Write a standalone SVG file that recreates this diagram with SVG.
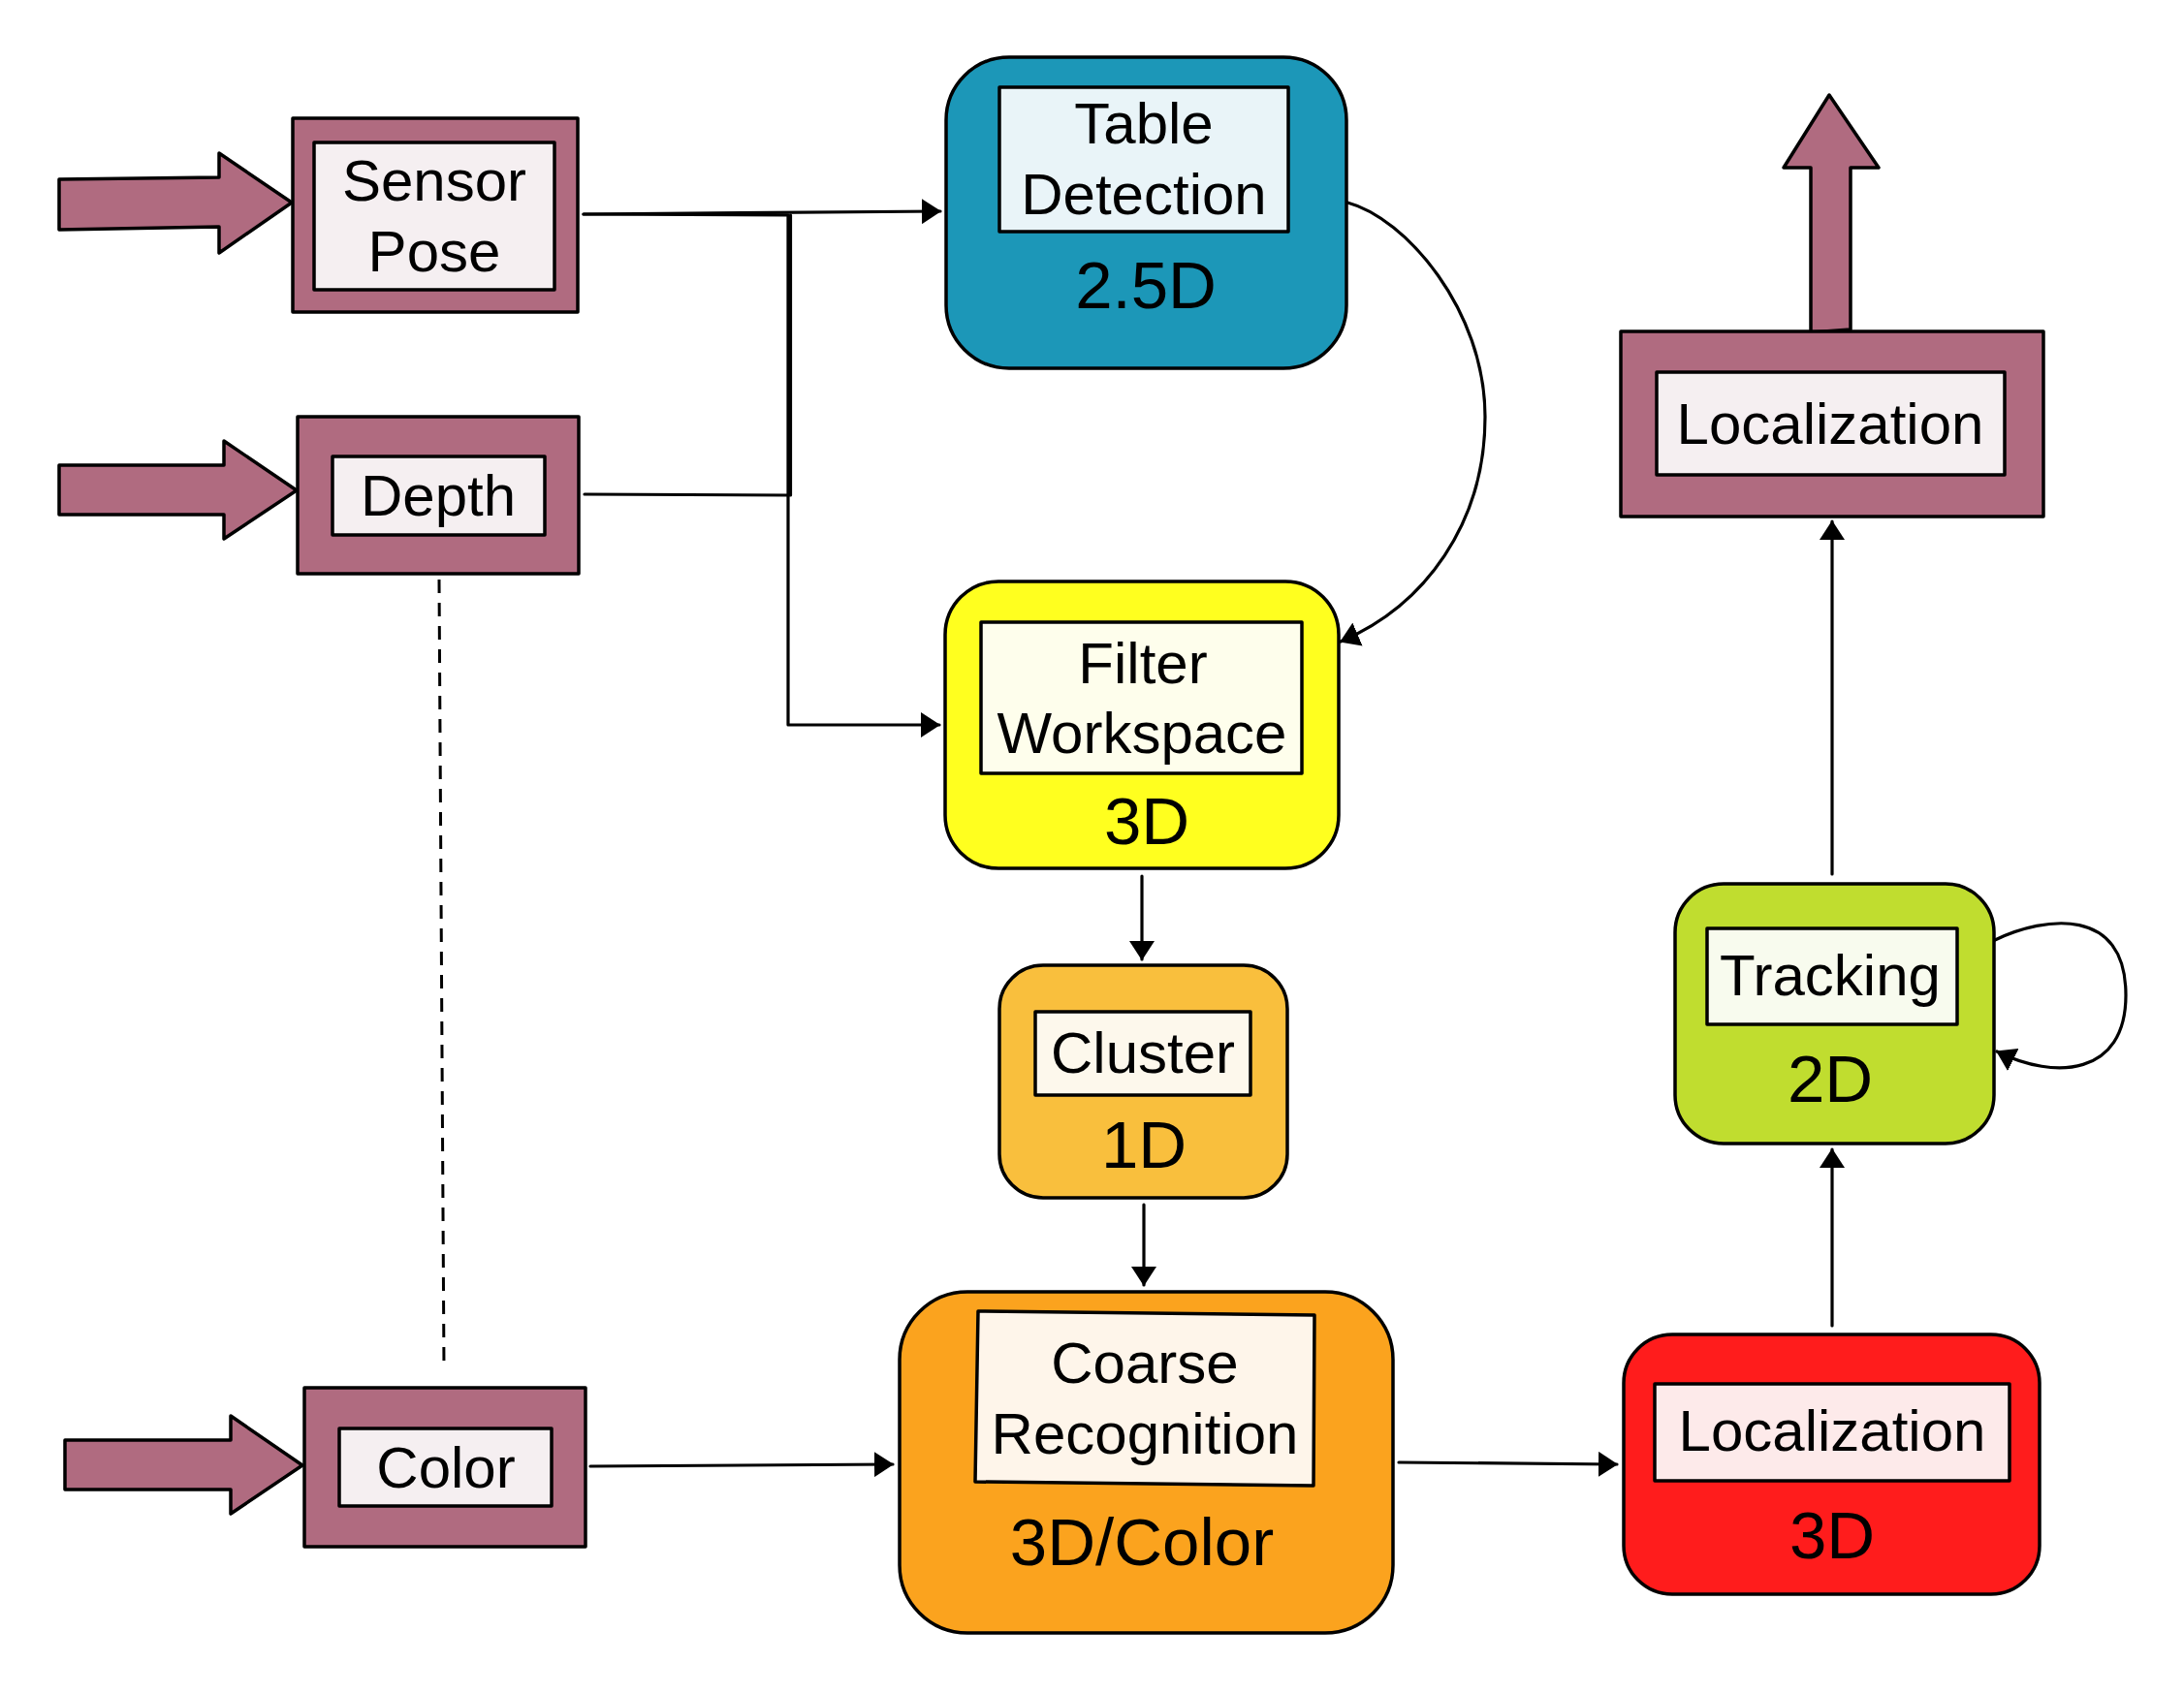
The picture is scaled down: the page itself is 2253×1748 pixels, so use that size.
<svg xmlns="http://www.w3.org/2000/svg" width="2253" height="1748" viewBox="0 0 2253 1748">
<style>
text{font-family:"Liberation Sans",Arial,Helvetica,sans-serif;fill:#000;text-anchor:middle}
.lbl{font-size:60px}
.dim{font-size:69px}
.o{stroke:#000;stroke-width:3.5;stroke-linejoin:round}
.mv{fill:#B06B80}
.mvi{fill:#F5EFF1}
.c{fill:none;stroke:#000;stroke-width:3.2;stroke-linecap:round;stroke-linejoin:round}
.d{fill:none;stroke:#000;stroke-width:3;stroke-dasharray:14 10}
</style>
<defs>
<marker id="ah" markerUnits="userSpaceOnUse" markerWidth="20" markerHeight="26" viewBox="0 0 20 26" refX="19" refY="13" orient="auto">
<path d="M0,0 L20,13 L0,26 z" fill="#000"/>
</marker>
</defs>
<rect width="2253" height="1748" fill="#fff"/>

<g id="connectors">
<path class="c" d="M602,221 L970,218" marker-end="url(#ah)"/>
<path class="c" d="M603,510 L815.5,511 L815.5,222"/>
<path class="c" d="M602,221 L813,222 L813,748 L969,748" marker-end="url(#ah)"/>
<path class="c" d="M1390,209 C1450,225 1532,320 1532,430 C1532,540 1470,625 1383,662" marker-end="url(#ah)"/>
<path class="c" d="M1178,904 L1178,990" marker-end="url(#ah)"/>
<path class="c" d="M1180,1243 L1180,1326" marker-end="url(#ah)"/>
<path class="c" d="M609,1513 L921,1511" marker-end="url(#ah)"/>
<path class="c" d="M1443,1509 L1668,1511" marker-end="url(#ah)"/>
<path class="c" d="M1890,1368 L1890,1186" marker-end="url(#ah)"/>
<path class="c" d="M1890,902 L1890,538" marker-end="url(#ah)"/>
<path class="c" d="M2058,970 C2110,945 2193,935 2193,1027 C2193,1110 2120,1115 2060,1085" marker-end="url(#ah)"/>
<path class="d" d="M453,598 L458,1413"/>
</g>

<g id="sensor-pose">
<polygon class="o mv" points="61,185 226,183 226,158 301,209 226,261 226,234 61,237"/>
<rect class="o mv" x="302" y="122" width="294" height="200"/>
<rect class="o mvi" x="324" y="147" width="248" height="152"/>
<text class="lbl" x="448" y="207">Sensor</text>
<text class="lbl" x="448" y="280">Pose</text>
</g>

<g id="depth">
<polygon class="o mv" points="61,480 231,480 231,455 306,506 231,556 231,531 61,531"/>
<rect class="o mv" x="307" y="430" width="290" height="162"/>
<rect class="o mvi" x="343" y="471" width="219" height="81"/>
<text class="lbl" x="452" y="532">Depth</text>
</g>

<g id="color">
<polygon class="o mv" points="67,1486 238,1486 238,1461 312,1512 238,1562 238,1537 67,1537"/>
<rect class="o mv" x="314" y="1432" width="290" height="164"/>
<rect class="o mvi" x="350" y="1474" width="219" height="80"/>
<text class="lbl" x="460" y="1535">Color</text>
</g>

<g id="table-detection">
<rect class="o" x="976" y="59" width="413" height="321" rx="65" fill="#1C97B8"/>
<rect class="o" x="1031" y="90" width="298" height="149" fill="#E9F4F8"/>
<text class="lbl" x="1180" y="148">Table</text>
<text class="lbl" x="1180" y="221">Detection</text>
<text class="dim" x="1182" y="318">2.5D</text>
</g>

<g id="filter-workspace">
<rect class="o" x="975" y="600" width="406" height="296" rx="55" fill="#FFFF1F"/>
<rect class="o" x="1012" y="642" width="331" height="156" fill="#FEFEEC"/>
<text class="lbl" x="1179" y="705">Filter</text>
<text class="lbl" x="1178" y="777">Workspace</text>
<text class="dim" x="1183" y="871">3D</text>
</g>

<g id="cluster">
<rect class="o" x="1031" y="996" width="297" height="240" rx="45" fill="#F9BF3D"/>
<rect class="o" x="1068" y="1044" width="222" height="86" fill="#FDF8EC"/>
<text class="lbl" x="1179" y="1107">Cluster</text>
<text class="dim" x="1180" y="1205">1D</text>
</g>

<g id="coarse-recognition">
<rect class="o" x="928" y="1333" width="509" height="352" rx="70" fill="#FBA31E"/>
<polygon class="o" points="1009,1353 1356,1357 1355,1533 1006,1529" fill="#FEF5EA"/>
<text class="lbl" x="1181" y="1427">Coarse</text>
<text class="lbl" x="1181" y="1500">Recognition</text>
<text class="dim" x="1178" y="1615">3D/Color</text>
</g>

<g id="localization-3d">
<rect class="o" x="1675" y="1377" width="429" height="268" rx="50" fill="#FF1C1C"/>
<rect class="o" x="1707" y="1428" width="366" height="100" fill="#FDEAEA"/>
<text class="lbl" x="1890" y="1497">Localization</text>
<text class="dim" x="1890" y="1608">3D</text>
</g>

<g id="tracking">
<rect class="o" x="1728" y="912" width="329" height="268" rx="50" fill="#C0DD2F"/>
<rect class="o" x="1761" y="958" width="258" height="99" fill="#F8FBEE"/>
<text class="lbl" x="1888" y="1027">Tracking</text>
<text class="dim" x="1888" y="1137">2D</text>
</g>

<g id="localization-out">
<polygon class="o mv" points="1868,343 1868,173 1840,173 1887,98 1938,173 1909,173 1909,340"/>
<rect class="o mv" x="1672" y="342" width="436" height="191"/>
<rect class="o mvi" x="1709" y="384" width="359" height="106"/>
<text class="lbl" x="1888" y="458">Localization</text>
</g>
</svg>
